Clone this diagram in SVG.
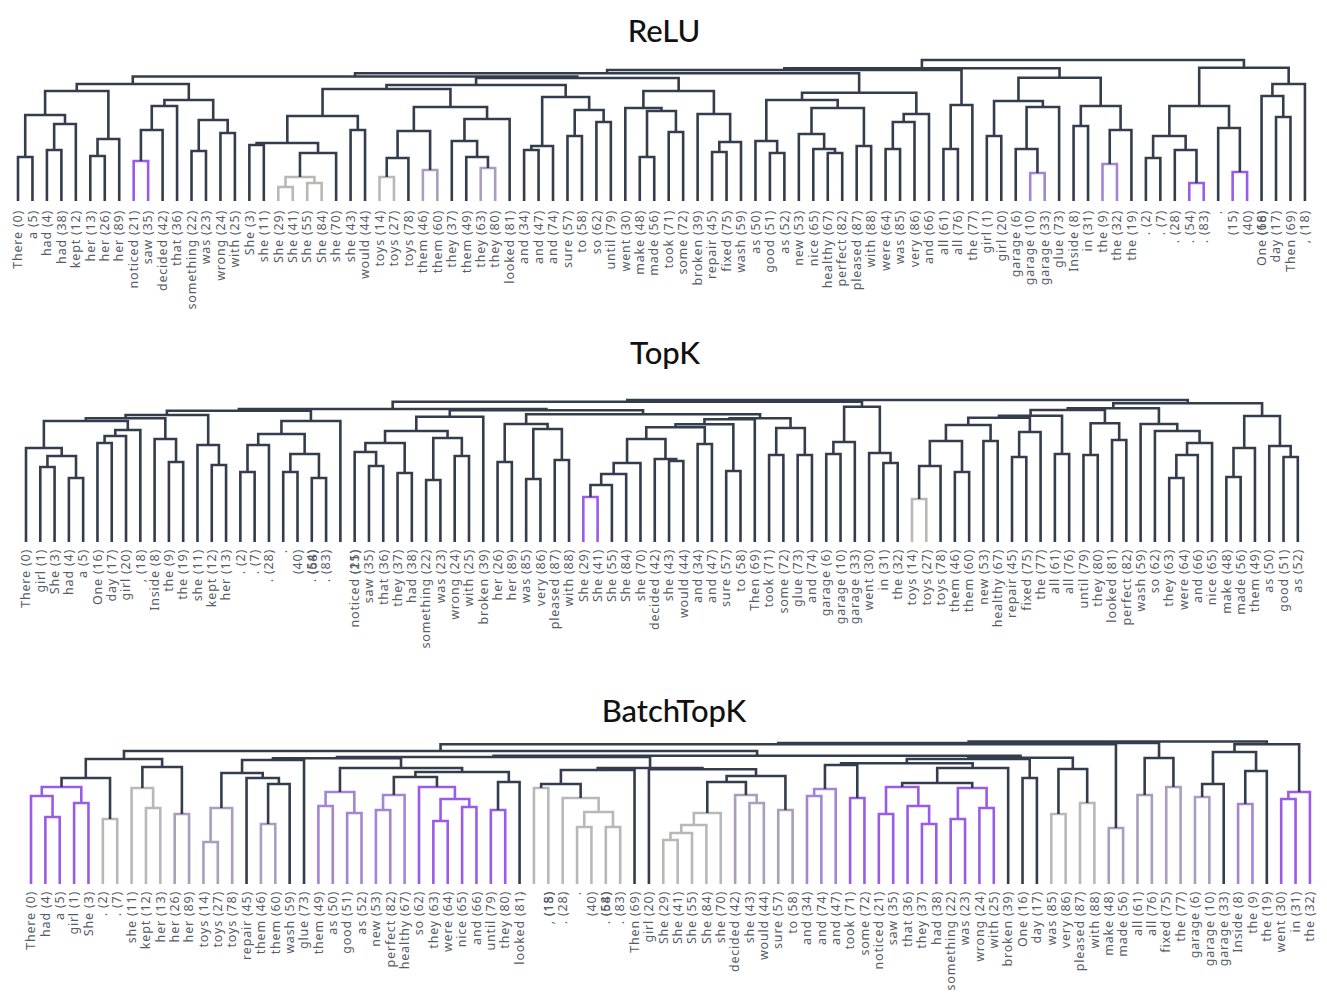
<svg xmlns="http://www.w3.org/2000/svg" width="1327" height="1000" viewBox="0 0 1327 1000">
<style>
.t text{font-family:"Noto Sans","DejaVu Sans",sans-serif;font-size:12.5px;letter-spacing:0.8px;fill:#555c68;text-anchor:end}
.title{font-family:Lato,"Noto Sans",sans-serif;font-size:31px;font-weight:500;fill:#111;text-anchor:middle}
.links path{fill:none;stroke:#333d4c;stroke-width:2.6;vector-effect:non-scaling-stroke;stroke-linejoin:miter}
.links path.p{stroke:#9a5ce6}
.links path.m{stroke:#a385d4}
.links path.q{stroke:#a99ebd}
.links path.g{stroke:#b8b8b6}
</style>
<rect width="1327" height="1000" fill="#fff"/>
<g id="title-relu"><text class="title" x="664" y="42">ReLU</text></g>
<g id="title-topk"><text class="title" x="665" y="364">TopK</text></g>
<g id="title-batchtopk"><text class="title" x="674" y="722">BatchTopK</text></g>

<g id="relu-links" class="links" transform="translate(18,0) scale(14.46,1)">
<path d="M0 201V157H1V201"/><path d="M2 201V150H3V201"/><path d="M2.5 150V124H4V201"/><path d="M0.5 157V115H3.25V124"/>
<path d="M5 201V156H6V201"/><path d="M5.5 156V139H7V201"/><path d="M1.875 115V91H6.25V139"/>
<path class="p" d="M8 201V161H9V201"/><path d="M8.5 161V130H10V201"/><path d="M9.25 130V106H11V201"/>
<path d="M12 201V151H13V201"/><path d="M14 201V133H15V201"/><path d="M12.5 151V120H14.5V133"/><path d="M10.125 106V100H13.5V120"/>
<path d="M4.0625 91V84H11.8125V100"/>
<path d="M16 201V145H17V201"/><path class="g" d="M18 201V187H19V201"/><path class="g" d="M20 201V183H21V201"/><path class="g" d="M18.5 187V177H20.5V183"/>
<path d="M19.5 177V153H22V201"/><path d="M16.5 145V143H20.75V153"/><path d="M23 201V130H24V201"/><path d="M18.625 143V116H23.5V130"/>
<path class="g" d="M25 201V177H26V201"/><path d="M25.5 177V158H27V201"/><path class="q" d="M28 201V170H29V201"/><path d="M26.25 158V131H28.5V170"/>
<path class="q" d="M32 201V168H33V201"/><path d="M31 201V157H32.5V168"/><path d="M30 201V141H31.75V157"/><path d="M30.875 141V119H34V201"/>
<path d="M27.375 131V107H32.4375V119"/><path d="M21.0625 116V89H29.906V107"/>
<path d="M35 201V150H36V201"/><path d="M35.5 150V146H37V201"/><path d="M38 201V136H39V201"/><path d="M40 201V122H41V201"/>
<path d="M38.5 136V110H40.5V122"/><path d="M36.25 146V97H39.5V110"/><path d="M25.484 89V85H37.875V97"/>
<path d="M43 201V157H44V201"/><path d="M45 201V132H46V201"/><path d="M43.5 157V111H45.5V132"/><path d="M42 201V108H44.5V111"/>
<path d="M48 201V152H49V201"/><path d="M48.5 152V142H50V201"/><path d="M47 201V114H49.25V142"/><path d="M43.25 108V91H48.125V114"/>
<path d="M31.68 85V78H45.6875V91"/><path d="M7.9375 84V76.5H38.68V78"/>
<path d="M52 201V153H53V201"/><path d="M51 201V141H52.5V153"/><path d="M56 201V153H57V201"/><path d="M55 201V149H56.5V153"/>
<path d="M54 201V134H55.75V149"/><path d="M58 201V146H59V201"/><path d="M54.875 134V108H58.5V146"/><path d="M51.75 141V100H56.6875V108"/>
<path d="M60 201V149H61V201"/><path d="M60.5 149V122H62V201"/><path d="M61.25 122V114H63V201"/><path d="M54.22 100V92.7H62.125V114"/>
<path d="M23.31 76.5V73.3H58.17V92.7"/>
<path d="M64 201V149H65V201"/><path d="M64.5 149V105H66V201"/><path d="M40.74 73.3V70H65.25V105"/>
<path d="M67 201V136H68V201"/><path class="m" d="M70 201V173H71V201"/><path d="M69 201V149H70.5V173"/><path d="M69.75 149V107H72V201"/>
<path d="M67.5 136V101H70.875V107"/><path d="M73 201V126H74V201"/><path class="m" d="M75 201V164H76V201"/><path d="M75.5 164V130H77V201"/>
<path d="M73.5 126V106H76.25V130"/><path d="M69.1875 101V77.7H74.875V106"/><path d="M52.995 70V68.3H72.03V77.7"/>
<path d="M78 201V158H79V201"/><path class="p" d="M81 201V183H82V201"/><path d="M80 201V150H81.5V183"/><path d="M78.5 158V136H80.75V150"/>
<path class="p" d="M84 201V172H85V201"/><path d="M83 201V128H84.5V172"/><path d="M79.625 136V106H83.75V128"/>
<path d="M87 201V117H88V201"/><path d="M86 201V96H87.5V117"/><path d="M86.75 96V84H89V201"/><path d="M81.6875 106V67.7H87.875V84"/>
<path d="M62.51 68.3V60H84.78V67.7"/>
</g>

<g id="topk-links" class="links" transform="translate(26,0) scale(14.29,1)">
<path d="M1 542V467H2V542"/><path d="M3 542V478H4V542"/><path d="M1.5 467V456H3.5V478"/><path d="M0 542V448H2.5V456"/>
<path d="M5 542V443H6V542"/><path d="M5.5 443V436H7V542"/><path d="M6.25 436V430H8V542"/><path d="M1.25 448V421H7.125V430"/>
<path d="M10 542V462H11V542"/><path d="M9 542V439H10.5V462"/><path d="M4.1875 421V418.3H9.75V439"/>
<path d="M13 542V465H14V542"/><path d="M12 542V445H13.5V465"/><path d="M6.969 418.3V415H12.75V445"/>
<path d="M15 542V472H16V542"/><path d="M15.5 472V445H17V542"/><path d="M18 542V472H19V542"/><path d="M20 542V478H21V542"/>
<path d="M18.5 472V454H20.5V478"/><path d="M16.25 445V434H19.5V454"/><path d="M17.875 434V421H22V542"/><path d="M9.859 415V410.7H19.9375V421"/>
<path d="M24 542V466H25V542"/><path d="M23 542V452H24.5V466"/><path d="M26 542V473H27V542"/><path d="M23.75 452V443H26.5V473"/>
<path d="M28 542V480H29V542"/><path d="M30 542V456H31V542"/><path d="M28.5 480V438H30.5V456"/><path d="M25.125 443V431H29.5V438"/>
<path d="M27.3125 431V416.7H32V542"/>
<path d="M33 542V462H34V542"/><path d="M35 542V479H36V542"/><path d="M37 542V460H38V542"/><path d="M35.5 479V429H37.5V460"/><path d="M33.5 462V424H36.5V429"/>
<path class="p" d="M39 542V497H40V542"/><path d="M39.5 497V485H41V542"/><path d="M40.25 485V474H42V542"/><path d="M41.125 474V463H43V542"/>
<path d="M45 542V461H46V542"/><path d="M44 542V459H45.5V461"/><path d="M42.0625 463V439H44.75V459"/>
<path d="M47 542V444H48V542"/><path d="M43.406 439V427.3H47.5V444"/><path d="M49 542V471H50V542"/><path d="M45.453 427.3V424.3H49.5V471"/>
<path d="M47.477 424.3V419.3H51V542"/><path d="M52 542V455H53V542"/><path d="M54 542V455H55V542"/><path d="M52.5 455V428H54.5V455"/>
<path d="M49.238 419.3V418.3H53.5V428"/><path d="M35 424V414.3H51.369V418.3"/><path d="M29.656 416.7V410.2H43.18V414.3"/><path d="M14.898 410.7V409H36.42V410.2"/>
<path d="M56 542V454H57V542"/><path d="M56.5 454V442H58V542"/><path d="M60 542V463H61V542"/><path d="M59 542V453H60.5V463"/>
<path d="M57.25 442V406.7H59.75V453"/><path d="M25.66 409V401.7H58.5V406.7"/>
<path class="g" d="M62 542V499H63V542"/><path d="M62.5 499V466H64V542"/><path d="M65 542V472H66V542"/><path d="M63.25 466V441H65.5V472"/>
<path d="M67 542V441H68V542"/><path d="M64.375 441V425H67.5V441"/><path d="M69 542V457H70V542"/><path d="M69.5 457V432H71V542"/>
<path d="M65.9375 425V417.7H70.25V432"/><path d="M72 542V454H73V542"/><path d="M68.09 417.7V415.7H72.5V454"/>
<path d="M74 542V455H75V542"/><path d="M76 542V440H77V542"/><path d="M74.5 455V423.3H76.5V440"/><path d="M70.3 415.7V410H75.5V423.3"/>
<path d="M80 542V478H81V542"/><path d="M80.5 478V455H82V542"/><path d="M81.25 455V443H83V542"/><path d="M79 542V431H82.125V443"/>
<path d="M78 542V424H80.5625V431"/><path d="M72.9 410V408.3H79.28V424"/>
<path d="M84 542V477H85V542"/><path d="M84.5 477V448H86V542"/><path d="M88 542V457H89V542"/><path d="M87 542V446H88.5V457"/>
<path d="M85.25 448V416H87.75V446"/><path d="M76.09 408.3V403.3H86.5V416"/><path d="M42.08 401.7V400H81.295V403.3"/>
</g>

<g id="batchtopk-links" class="links" transform="translate(31,0) scale(14.37,1)">
<path class="p" d="M1 884V817H2V884"/><path class="p" d="M0 884V796H1.5V817"/><path class="p" d="M3 884V803H4V884"/><path class="p" d="M0.75 796V787H3.5V803"/>
<path class="g" d="M5 884V819H6V884"/><path d="M2.125 787V778H5.5V819"/><path class="g" d="M8 884V808H9V884"/><path class="g" d="M7 884V788H8.5V808"/>
<path class="q" d="M10 884V814H11V884"/><path d="M7.75 788V767H10.5V814"/><path d="M3.8125 778V759H9.125V767"/>
<path class="q" d="M12 884V842H13V884"/><path class="q" d="M12.5 842V808H14V884"/><path class="q" d="M16 884V824H17V884"/><path d="M16.5 824V784H18V884"/>
<path d="M15 884V778H17.25V784"/><path d="M13.25 808V773H16.125V778"/><path d="M14.6875 773V760H19V884"/>
<path class="m" d="M20 884V806H21V884"/><path class="m" d="M22 884V813H23V884"/><path class="m" d="M20.5 806V792H22.5V813"/>
<path class="m" d="M24 884V810H25V884"/><path class="m" d="M24.5 810V795H26V884"/>
<path class="p" d="M28 884V821H29V884"/><path class="p" d="M30 884V807H31V884"/><path class="p" d="M28.5 821V799H30.5V807"/><path class="p" d="M27 884V787H29.5V799"/>
<path d="M25.25 795V777H28.25V787"/><path class="p" d="M32 884V810H33V884"/><path d="M32.5 810V782H34V884"/><path d="M26.75 777V772H33.25V782"/>
<path d="M21.5 792V768H30V772"/>
<path class="g" d="M35 884V788H36V884"/><path class="g" d="M38 884V827H39V884"/><path class="g" d="M40 884V827H41V884"/><path class="g" d="M38.5 827V812H40.5V827"/>
<path class="g" d="M37 884V798H39.5V812"/><path d="M35.5 788V784H38.25V798"/><path d="M36.875 784V770H42V884"/>
<path class="g" d="M44 884V840H45V884"/><path class="g" d="M44.5 840V833H46V884"/><path class="g" d="M45.25 833V825H47V884"/><path class="g" d="M46.125 825V813H48V884"/>
<path class="q" d="M50 884V803H51V884"/><path class="q" d="M49 884V795H50.5V803"/><path d="M47.0625 813V782H49.75V795"/>
<path class="q" d="M52 884V810H53V884"/><path d="M48.406 782V776H52.5V810"/><path d="M43 884V769.3H50.453V776"/>
<path d="M39.4375 770V768H46.727V769.3"/><path d="M16.84 760V758.3H25.75V768"/><path d="M21.295 758.3V757H43.08V768"/>
<path class="m" d="M54 884V796H55V884"/><path class="m" d="M54.5 796V789H56V884"/><path class="p" d="M57 884V798H58V884"/><path d="M55.25 789V765H57.5V798"/>
<path class="p" d="M59 884V814H60V884"/><path class="p" d="M62 884V824H63V884"/><path class="p" d="M61 884V806H62.5V824"/><path class="p" d="M59.5 814V787H61.75V806"/>
<path class="p" d="M64 884V819H65V884"/><path class="p" d="M66 884V808H67V884"/><path class="p" d="M64.5 819V788H66.5V808"/>
<path d="M60.625 787V783H65.5V788"/><path d="M63.0625 783V768H68V884"/><path d="M56.375 765V763.3H65.53V768"/>
<path d="M69 884V778H70V884"/><path d="M60.95 763.3V759H69.5V778"/>
<path class="g" d="M71 884V814H72V884"/><path class="g" d="M73 884V803H74V884"/><path d="M71.5 814V769H73.5V803"/>
<path d="M65.23 759V757.7H72.5V769"/><path d="M32.19 757V755.7H68.86V757.7"/><path d="M6.469 759V751H50.53V755.7"/>
<path class="q" d="M75 884V828H76V884"/><path d="M28.5 751V744.3H75.5V828"/>
<path class="q" d="M77 884V795H78V884"/><path class="q" d="M79 884V787H80V884"/><path d="M77.5 795V758H79.5V787"/><path d="M52 744.3V743H78.5V758"/>
<path class="q" d="M81 884V797H82V884"/><path d="M81.5 797V784H83V884"/><path class="m" d="M84 884V804H85V884"/><path d="M84.5 804V771H86V884"/>
<path d="M82.25 784V752H85.25V771"/><path class="p" d="M87 884V799H88V884"/><path class="p" d="M87.5 799V792H89V884"/><path d="M83.75 752V744.3H88.25V792"/>
<path d="M65.25 743V741.5H86V744.3"/>
</g>

<g id="relu-leaves" class="t" transform="translate(22.3,210) rotate(-90)">
<g id="relu-0"><text y="0">There (0)</text></g>
<g id="relu-5"><text y="14.5">a (5)</text></g>
<g id="relu-4"><text y="28.9">had (4)</text></g>
<g id="relu-38"><text y="43.4">had (38)</text></g>
<g id="relu-12"><text y="57.8">kept (12)</text></g>
<g id="relu-13"><text y="72.3">her (13)</text></g>
<g id="relu-26"><text y="86.8">her (26)</text></g>
<g id="relu-89"><text y="101.2">her (89)</text></g>
<g id="relu-21"><text y="115.7">noticed (21)</text></g>
<g id="relu-35"><text y="130.1">saw (35)</text></g>
<g id="relu-42"><text y="144.6">decided (42)</text></g>
<g id="relu-36"><text y="159.1">that (36)</text></g>
<g id="relu-22"><text y="173.5">something (22)</text></g>
<g id="relu-23"><text y="188">was (23)</text></g>
<g id="relu-24"><text y="202.4">wrong (24)</text></g>
<g id="relu-25"><text y="216.9">with (25)</text></g>
<g id="relu-3"><text y="231.4">She (3)</text></g>
<g id="relu-11"><text y="245.8">she (11)</text></g>
<g id="relu-29"><text y="260.3">She (29)</text></g>
<g id="relu-41"><text y="274.7">She (41)</text></g>
<g id="relu-55"><text y="289.2">She (55)</text></g>
<g id="relu-84"><text y="303.7">She (84)</text></g>
<g id="relu-70"><text y="318.1">she (70)</text></g>
<g id="relu-43"><text y="332.6">she (43)</text></g>
<g id="relu-44"><text y="347">would (44)</text></g>
<g id="relu-14"><text y="361.5">toys (14)</text></g>
<g id="relu-27"><text y="376">toys (27)</text></g>
<g id="relu-78"><text y="390.4">toys (78)</text></g>
<g id="relu-46"><text y="404.9">them (46)</text></g>
<g id="relu-60"><text y="419.3">them (60)</text></g>
<g id="relu-37"><text y="433.8">they (37)</text></g>
<g id="relu-49"><text y="448.3">them (49)</text></g>
<g id="relu-63"><text y="462.7">they (63)</text></g>
<g id="relu-80"><text y="477.2">they (80)</text></g>
<g id="relu-81"><text y="491.6">looked (81)</text></g>
<g id="relu-34"><text y="506.1">and (34)</text></g>
<g id="relu-47"><text y="520.6">and (47)</text></g>
<g id="relu-74"><text y="535">and (74)</text></g>
<g id="relu-57"><text y="549.5">sure (57)</text></g>
<g id="relu-58"><text y="563.9">to (58)</text></g>
<g id="relu-62"><text y="578.4">so (62)</text></g>
<g id="relu-79"><text y="592.9">until (79)</text></g>
<g id="relu-30"><text y="607.3">went (30)</text></g>
<g id="relu-48"><text y="621.8">make (48)</text></g>
<g id="relu-56"><text y="636.2">made (56)</text></g>
<g id="relu-71"><text y="650.7">took (71)</text></g>
<g id="relu-72"><text y="665.2">some (72)</text></g>
<g id="relu-39"><text y="679.6">broken (39)</text></g>
<g id="relu-45"><text y="694.1">repair (45)</text></g>
<g id="relu-75"><text y="708.5">fixed (75)</text></g>
<g id="relu-59"><text y="723">wash (59)</text></g>
<g id="relu-50"><text y="737.5">as (50)</text></g>
<g id="relu-51"><text y="751.9">good (51)</text></g>
<g id="relu-52"><text y="766.4">as (52)</text></g>
<g id="relu-53"><text y="780.8">new (53)</text></g>
<g id="relu-65"><text y="795.3">nice (65)</text></g>
<g id="relu-67"><text y="809.8">healthy (67)</text></g>
<g id="relu-82"><text y="824.2">perfect (82)</text></g>
<g id="relu-87"><text y="838.7">pleased (87)</text></g>
<g id="relu-88"><text y="853.1">with (88)</text></g>
<g id="relu-64"><text y="867.6">were (64)</text></g>
<g id="relu-85"><text y="882.1">was (85)</text></g>
<g id="relu-86"><text y="896.5">very (86)</text></g>
<g id="relu-66"><text y="911">and (66)</text></g>
<g id="relu-61"><text y="925.4">all (61)</text></g>
<g id="relu-76"><text y="939.9">all (76)</text></g>
<g id="relu-77"><text y="954.4">the (77)</text></g>
<g id="relu-1"><text y="968.8">girl (1)</text></g>
<g id="relu-20"><text y="983.3">girl (20)</text></g>
<g id="relu-6"><text y="997.7">garage (6)</text></g>
<g id="relu-10"><text y="1012.2">garage (10)</text></g>
<g id="relu-33"><text y="1026.7">garage (33)</text></g>
<g id="relu-73"><text y="1041.1">glue (73)</text></g>
<g id="relu-8"><text y="1055.6">Inside (8)</text></g>
<g id="relu-31"><text y="1070">in (31)</text></g>
<g id="relu-9"><text y="1084.5">the (9)</text></g>
<g id="relu-32"><text y="1099">the (32)</text></g>
<g id="relu-19"><text y="1113.4">the (19)</text></g>
<g id="relu-2"><text y="1127.9">. (2)</text></g>
<g id="relu-7"><text y="1142.3">. (7)</text></g>
<g id="relu-28"><text y="1156.8">. (28)</text></g>
<g id="relu-54"><text y="1171.3">. (54)</text></g>
<g id="relu-83"><text y="1185.7">. (83)</text></g>
<g id="relu-15"><text y="1185.4">.</text><text y="1215">(15)</text></g>
<g id="relu-40"><text y="1199.8">.</text><text y="1229.4">(40)</text></g>
<g id="relu-68"><text y="1214.3">.</text><text y="1243.9">(68)</text></g>
<g id="relu-16"><text y="1243.6">One (16)</text></g>
<g id="relu-17"><text y="1258">day (17)</text></g>
<g id="relu-69"><text y="1272.5">Then (69)</text></g>
<g id="relu-18"><text y="1286.9">, (18)</text></g>
</g>

<g id="topk-leaves" class="t" transform="translate(30.3,549) rotate(-90)">
<g id="topk-0"><text y="0">There (0)</text></g>
<g id="topk-1"><text y="14.3">girl (1)</text></g>
<g id="topk-3"><text y="28.6">She (3)</text></g>
<g id="topk-4"><text y="42.9">had (4)</text></g>
<g id="topk-5"><text y="57.2">a (5)</text></g>
<g id="topk-16"><text y="71.5">One (16)</text></g>
<g id="topk-17"><text y="85.7">day (17)</text></g>
<g id="topk-20"><text y="100">girl (20)</text></g>
<g id="topk-18"><text y="114.3">, (18)</text></g>
<g id="topk-8"><text y="128.6">Inside (8)</text></g>
<g id="topk-9"><text y="142.9">the (9)</text></g>
<g id="topk-19"><text y="157.2">the (19)</text></g>
<g id="topk-11"><text y="171.5">she (11)</text></g>
<g id="topk-12"><text y="185.8">kept (12)</text></g>
<g id="topk-13"><text y="200.1">her (13)</text></g>
<g id="topk-2"><text y="214.4">. (2)</text></g>
<g id="topk-7"><text y="228.6">. (7)</text></g>
<g id="topk-28"><text y="242.9">. (28)</text></g>
<g id="topk-40"><text y="242.4">.</text><text y="272">(40)</text></g>
<g id="topk-68"><text y="256.7">.</text><text y="286.3">(68)</text></g>
<g id="topk-54"><text y="285.8">. (54)</text></g>
<g id="topk-83"><text y="300.1">. (83)</text></g>
<g id="topk-15"><text y="299.6">.</text><text y="329.2">(15)</text></g>
<g id="topk-21"><text y="328.7">noticed (21)</text></g>
<g id="topk-35"><text y="343">saw (35)</text></g>
<g id="topk-36"><text y="357.3">that (36)</text></g>
<g id="topk-37"><text y="371.5">they (37)</text></g>
<g id="topk-38"><text y="385.8">had (38)</text></g>
<g id="topk-22"><text y="400.1">something (22)</text></g>
<g id="topk-23"><text y="414.4">was (23)</text></g>
<g id="topk-24"><text y="428.7">wrong (24)</text></g>
<g id="topk-25"><text y="443">with (25)</text></g>
<g id="topk-39"><text y="457.3">broken (39)</text></g>
<g id="topk-26"><text y="471.6">her (26)</text></g>
<g id="topk-89"><text y="485.9">her (89)</text></g>
<g id="topk-85"><text y="500.2">was (85)</text></g>
<g id="topk-86"><text y="514.4">very (86)</text></g>
<g id="topk-87"><text y="528.7">pleased (87)</text></g>
<g id="topk-88"><text y="543">with (88)</text></g>
<g id="topk-29"><text y="557.3">She (29)</text></g>
<g id="topk-41"><text y="571.6">She (41)</text></g>
<g id="topk-55"><text y="585.9">She (55)</text></g>
<g id="topk-84"><text y="600.2">She (84)</text></g>
<g id="topk-70"><text y="614.5">she (70)</text></g>
<g id="topk-42"><text y="628.8">decided (42)</text></g>
<g id="topk-43"><text y="643.1">she (43)</text></g>
<g id="topk-44"><text y="657.3">would (44)</text></g>
<g id="topk-34"><text y="671.6">and (34)</text></g>
<g id="topk-47"><text y="685.9">and (47)</text></g>
<g id="topk-57"><text y="700.2">sure (57)</text></g>
<g id="topk-58"><text y="714.5">to (58)</text></g>
<g id="topk-69"><text y="728.8">Then (69)</text></g>
<g id="topk-71"><text y="743.1">took (71)</text></g>
<g id="topk-72"><text y="757.4">some (72)</text></g>
<g id="topk-73"><text y="771.7">glue (73)</text></g>
<g id="topk-74"><text y="786">and (74)</text></g>
<g id="topk-6"><text y="800.2">garage (6)</text></g>
<g id="topk-10"><text y="814.5">garage (10)</text></g>
<g id="topk-33"><text y="828.8">garage (33)</text></g>
<g id="topk-30"><text y="843.1">went (30)</text></g>
<g id="topk-31"><text y="857.4">in (31)</text></g>
<g id="topk-32"><text y="871.7">the (32)</text></g>
<g id="topk-14"><text y="886">toys (14)</text></g>
<g id="topk-27"><text y="900.3">toys (27)</text></g>
<g id="topk-78"><text y="914.6">toys (78)</text></g>
<g id="topk-46"><text y="928.9">them (46)</text></g>
<g id="topk-60"><text y="943.1">them (60)</text></g>
<g id="topk-53"><text y="957.4">new (53)</text></g>
<g id="topk-67"><text y="971.7">healthy (67)</text></g>
<g id="topk-45"><text y="986">repair (45)</text></g>
<g id="topk-75"><text y="1000.3">fixed (75)</text></g>
<g id="topk-77"><text y="1014.6">the (77)</text></g>
<g id="topk-61"><text y="1028.9">all (61)</text></g>
<g id="topk-76"><text y="1043.2">all (76)</text></g>
<g id="topk-79"><text y="1057.5">until (79)</text></g>
<g id="topk-80"><text y="1071.8">they (80)</text></g>
<g id="topk-81"><text y="1086">looked (81)</text></g>
<g id="topk-82"><text y="1100.3">perfect (82)</text></g>
<g id="topk-59"><text y="1114.6">wash (59)</text></g>
<g id="topk-62"><text y="1128.9">so (62)</text></g>
<g id="topk-63"><text y="1143.2">they (63)</text></g>
<g id="topk-64"><text y="1157.5">were (64)</text></g>
<g id="topk-66"><text y="1171.8">and (66)</text></g>
<g id="topk-65"><text y="1186.1">nice (65)</text></g>
<g id="topk-48"><text y="1200.4">make (48)</text></g>
<g id="topk-56"><text y="1214.7">made (56)</text></g>
<g id="topk-49"><text y="1228.9">them (49)</text></g>
<g id="topk-50"><text y="1243.2">as (50)</text></g>
<g id="topk-51"><text y="1257.5">good (51)</text></g>
<g id="topk-52"><text y="1271.8">as (52)</text></g>
</g>

<g id="batchtopk-leaves" class="t" transform="translate(35.3,891) rotate(-90)">
<g id="btk-0"><text y="0">There (0)</text></g>
<g id="btk-4"><text y="14.4">had (4)</text></g>
<g id="btk-5"><text y="28.7">a (5)</text></g>
<g id="btk-1"><text y="43.1">girl (1)</text></g>
<g id="btk-3"><text y="57.5">She (3)</text></g>
<g id="btk-2"><text y="71.9">. (2)</text></g>
<g id="btk-7"><text y="86.2">. (7)</text></g>
<g id="btk-11"><text y="100.6">she (11)</text></g>
<g id="btk-12"><text y="115">kept (12)</text></g>
<g id="btk-13"><text y="129.3">her (13)</text></g>
<g id="btk-26"><text y="143.7">her (26)</text></g>
<g id="btk-89"><text y="158.1">her (89)</text></g>
<g id="btk-14"><text y="172.4">toys (14)</text></g>
<g id="btk-27"><text y="186.8">toys (27)</text></g>
<g id="btk-78"><text y="201.2">toys (78)</text></g>
<g id="btk-45"><text y="215.6">repair (45)</text></g>
<g id="btk-46"><text y="229.9">them (46)</text></g>
<g id="btk-60"><text y="244.3">them (60)</text></g>
<g id="btk-59"><text y="258.7">wash (59)</text></g>
<g id="btk-73"><text y="273">glue (73)</text></g>
<g id="btk-49"><text y="287.4">them (49)</text></g>
<g id="btk-50"><text y="301.8">as (50)</text></g>
<g id="btk-51"><text y="316.1">good (51)</text></g>
<g id="btk-52"><text y="330.5">as (52)</text></g>
<g id="btk-53"><text y="344.9">new (53)</text></g>
<g id="btk-82"><text y="359.3">perfect (82)</text></g>
<g id="btk-67"><text y="373.6">healthy (67)</text></g>
<g id="btk-62"><text y="388">so (62)</text></g>
<g id="btk-63"><text y="402.4">they (63)</text></g>
<g id="btk-64"><text y="416.7">were (64)</text></g>
<g id="btk-65"><text y="431.1">nice (65)</text></g>
<g id="btk-66"><text y="445.5">and (66)</text></g>
<g id="btk-79"><text y="459.8">until (79)</text></g>
<g id="btk-80"><text y="474.2">they (80)</text></g>
<g id="btk-81"><text y="488.6">looked (81)</text></g>
<g id="btk-15"><text y="488.2">.</text><text y="517.8">(15)</text></g>
<g id="btk-18"><text y="517.3">, (18)</text></g>
<g id="btk-28"><text y="531.7">. (28)</text></g>
<g id="btk-40"><text y="531.3">.</text><text y="560.9">(40)</text></g>
<g id="btk-68"><text y="545.6">.</text><text y="575.2">(68)</text></g>
<g id="btk-54"><text y="574.8">. (54)</text></g>
<g id="btk-83"><text y="589.2">. (83)</text></g>
<g id="btk-69"><text y="603.5">Then (69)</text></g>
<g id="btk-20"><text y="617.9">girl (20)</text></g>
<g id="btk-29"><text y="632.3">She (29)</text></g>
<g id="btk-41"><text y="646.7">She (41)</text></g>
<g id="btk-55"><text y="661">She (55)</text></g>
<g id="btk-84"><text y="675.4">She (84)</text></g>
<g id="btk-70"><text y="689.8">she (70)</text></g>
<g id="btk-42"><text y="704.1">decided (42)</text></g>
<g id="btk-43"><text y="718.5">she (43)</text></g>
<g id="btk-44"><text y="732.9">would (44)</text></g>
<g id="btk-57"><text y="747.2">sure (57)</text></g>
<g id="btk-58"><text y="761.6">to (58)</text></g>
<g id="btk-34"><text y="776">and (34)</text></g>
<g id="btk-74"><text y="790.4">and (74)</text></g>
<g id="btk-47"><text y="804.7">and (47)</text></g>
<g id="btk-71"><text y="819.1">took (71)</text></g>
<g id="btk-72"><text y="833.5">some (72)</text></g>
<g id="btk-21"><text y="847.8">noticed (21)</text></g>
<g id="btk-35"><text y="862.2">saw (35)</text></g>
<g id="btk-36"><text y="876.6">that (36)</text></g>
<g id="btk-37"><text y="890.9">they (37)</text></g>
<g id="btk-38"><text y="905.3">had (38)</text></g>
<g id="btk-22"><text y="919.7">something (22)</text></g>
<g id="btk-23"><text y="934.1">was (23)</text></g>
<g id="btk-24"><text y="948.4">wrong (24)</text></g>
<g id="btk-25"><text y="962.8">with (25)</text></g>
<g id="btk-39"><text y="977.2">broken (39)</text></g>
<g id="btk-16"><text y="991.5">One (16)</text></g>
<g id="btk-17"><text y="1005.9">day (17)</text></g>
<g id="btk-85"><text y="1020.3">was (85)</text></g>
<g id="btk-86"><text y="1034.6">very (86)</text></g>
<g id="btk-87"><text y="1049">pleased (87)</text></g>
<g id="btk-88"><text y="1063.4">with (88)</text></g>
<g id="btk-48"><text y="1077.8">make (48)</text></g>
<g id="btk-56"><text y="1092.1">made (56)</text></g>
<g id="btk-61"><text y="1106.5">all (61)</text></g>
<g id="btk-76"><text y="1120.9">all (76)</text></g>
<g id="btk-75"><text y="1135.2">fixed (75)</text></g>
<g id="btk-77"><text y="1149.6">the (77)</text></g>
<g id="btk-6"><text y="1164">garage (6)</text></g>
<g id="btk-10"><text y="1178.3">garage (10)</text></g>
<g id="btk-33"><text y="1192.7">garage (33)</text></g>
<g id="btk-8"><text y="1207.1">Inside (8)</text></g>
<g id="btk-9"><text y="1221.5">the (9)</text></g>
<g id="btk-19"><text y="1235.8">the (19)</text></g>
<g id="btk-30"><text y="1250.2">went (30)</text></g>
<g id="btk-31"><text y="1264.6">in (31)</text></g>
<g id="btk-32"><text y="1278.9">the (32)</text></g>
</g>
</svg>
